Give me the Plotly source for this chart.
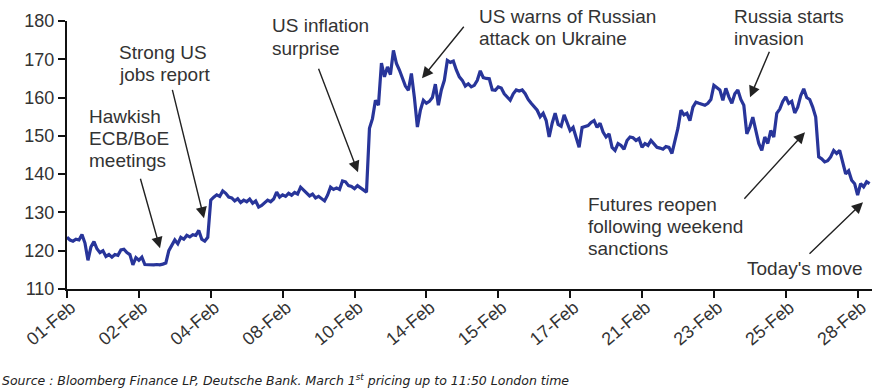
import plotly.graph_objects as go

# ---------------- data ----------------
tick_labels = ["01-Feb", "02-Feb", "04-Feb", "08-Feb", "10-Feb", "14-Feb",
               "15-Feb", "17-Feb", "21-Feb", "23-Feb", "25-Feb", "28-Feb"]
samples_per_tick = 24

values = [
    123.5, 122.8, 122.5, 123.0, 122.8, 124.2, 122.0, 117.5, 121.0, 122.4,
    120.5, 119.5, 120.0, 118.5, 119.0, 118.3, 119.0, 118.8, 120.2, 120.4,
    119.5, 119.0, 116.3, 118.2, 117.5, 118.3, 116.4, 116.3, 116.4, 116.3,
    116.4, 116.3, 116.5, 116.8, 120.0, 121.5, 122.8, 121.8, 123.5, 123.0,
    124.0, 123.6, 124.2, 124.0, 125.3, 123.0, 122.5, 123.5, 133.2, 134.0,
    134.6, 134.2, 135.6, 135.0, 134.0, 133.8, 133.0, 133.6, 132.6, 133.2,
    132.8, 133.5, 132.4, 133.0, 131.4, 131.8, 132.6, 133.2, 132.8, 133.5,
    135.3, 134.0, 134.6, 134.2, 135.0, 134.5, 135.2, 134.8, 136.6, 135.8,
    135.0, 134.3, 134.8, 133.8, 134.2, 133.5, 133.0, 134.5, 136.6, 136.0,
    136.4, 136.0, 138.2, 138.0, 137.0, 136.8, 136.2, 137.0, 136.4, 136.0,
    135.3, 152.0, 154.5, 159.3, 158.0, 169.0, 165.4, 168.0, 166.0, 172.3,
    168.9, 167.2, 165.0, 163.0, 161.9, 166.3, 160.0, 152.3, 156.7, 159.3,
    158.5, 159.0, 160.0, 163.5, 158.0, 162.0, 164.5, 169.7, 169.2, 169.5,
    167.2, 165.4, 164.5, 163.0, 163.6, 162.8, 163.2, 164.5, 167.0, 165.2,
    165.0, 164.9, 162.0, 161.9, 162.8, 162.5, 161.0, 160.0, 159.3, 161.0,
    162.0, 161.7, 162.0, 161.0, 159.5, 158.5, 157.5, 156.7, 155.0, 155.9,
    154.0, 149.7, 153.3, 155.9, 153.0, 152.5, 155.5, 153.3, 151.4, 152.2,
    149.7, 147.0, 152.2, 152.5, 152.7, 153.5, 154.0, 152.2, 153.3, 151.0,
    149.7, 150.5, 147.0, 146.2, 148.0, 147.5, 146.5, 148.8, 149.7, 149.5,
    148.8, 149.3, 147.0, 148.0, 147.5, 148.8, 147.8, 147.0, 146.8, 146.5,
    147.2, 147.0, 145.4, 149.0, 152.0, 156.7, 155.5, 155.9, 154.0, 157.5,
    158.8, 158.5, 158.2, 158.0, 158.5, 159.5, 163.2, 162.5, 162.0, 159.3,
    162.4, 160.2, 158.5, 161.0, 162.0, 159.5, 158.0, 150.5, 152.3, 154.9,
    151.0, 148.0, 146.2, 149.7, 148.0, 151.4, 149.7, 155.9, 157.0, 159.0,
    160.2, 158.5, 159.0, 156.0, 157.5, 160.5, 162.3, 160.0, 159.5, 157.5,
    154.9, 144.5, 144.0, 143.2, 143.5, 144.5, 146.2, 145.4, 146.2, 142.7,
    140.1, 140.9, 138.4, 137.5, 134.5, 137.5, 136.7, 138.0, 137.5,
]
x_vals = [i / samples_per_tick for i in range(len(values))]

y_ticks = [110, 120, 130, 140, 150, 160, 170, 180]

# ---------------- layout helpers ----------------
W, H = 872, 389
L, R, T, B = 67, 0, 20.7, 100.3
X_MAX = 11.2
Y_MIN, Y_MAX = 110, 180
pw, ph = W - L - R, H - T - B


def px2x(px):
    return (px - L) / pw * X_MAX


def py2y(py):
    return Y_MIN + (H - B - py) / ph * (Y_MAX - Y_MIN)


def px2paper(px):
    return (px - L) / pw


def py2paper(py):
    return (H - B - py) / ph


TEXT_COLOR = "#333333"
FONT = "Liberation Sans, Arial, sans-serif"

fig = go.Figure()
fig.add_trace(go.Scatter(
    x=x_vals, y=values, mode="lines",
    line=dict(color="#28359a", width=3.2),
    hoverinfo="skip", showlegend=False,
))

annotations = []

# text labels (one per line for tight line spacing)
text_blocks = [
    (87, [(116, "Hawkish"), (138, "ECB/BoE"), (160, "meetings")]),
    (117, [(52, "Strong US"), (74, "jobs report")]),
    (270, [(25, "US inflation"), (48, "surprise")]),
    (477, [(16, "US warns of Russian"), (38, "attack on Ukraine")]),
    (732, [(16, "Russia starts"), (38, "invasion")]),
    (586, [(204, "Futures reopen"), (226, "following weekend"), (248, "sanctions")]),
    (745, [(268, "Today's move")]),
]
for px, lines in text_blocks:
    for py, txt in lines:
        annotations.append(dict(
            text=txt, xref="paper", yref="paper",
            x=px2paper(px), y=py2paper(py),
            xanchor="left", yanchor="middle", showarrow=False,
            font=dict(size=19, color=TEXT_COLOR, family=FONT),
        ))

# arrows: (tail px, tail py, head px, head py)
arrows = [
    (140, 177, 160, 248),
    (172, 88, 204, 218),
    (318, 67, 358, 172),
    (465, 25, 422, 78),
    (770, 50, 750, 97),
    (743, 200, 805, 132),
    (808, 255, 863, 202),
]
for tx, ty, hx, hy in arrows:
    annotations.append(dict(
        text="", xref="x", yref="y", axref="x", ayref="y",
        x=px2x(hx), y=py2y(hy), ax=px2x(tx), ay=py2y(ty),
        showarrow=True, arrowhead=2, arrowsize=1.6, arrowwidth=1.4,
        arrowcolor="#222222", standoff=0, startstandoff=0,
    ))

# source note
annotations.append(dict(
    text="<i>Source : Bloomberg Finance LP, Deutsche Bank. March 1<sup>st</sup> "
         "pricing up to 11:50 London time</i>",
    xref="paper", yref="paper", x=px2paper(0), y=py2paper(380),
    xanchor="left", yanchor="middle", showarrow=False,
    font=dict(size=12.5, color="#222222", family="DejaVu Sans, sans-serif"),
))

fig.update_layout(
    width=W, height=H,
    margin=dict(l=L, r=R, t=T, b=B, pad=0),
    paper_bgcolor="white", plot_bgcolor="white",
    annotations=annotations,
    font=dict(family=FONT, color=TEXT_COLOR),
    xaxis=dict(
        range=[0, X_MAX], tickmode="array",
        tickvals=list(range(len(tick_labels))), ticktext=tick_labels,
        tickangle=-40, ticks="outside", ticklen=7, tickwidth=2, tickcolor="#111111",
        ticklabelstandoff=-8, ticklabelshift=4,
        showline=True, linecolor="#111111", linewidth=2,
        showgrid=False, zeroline=False,
        tickfont=dict(size=18, color=TEXT_COLOR, family=FONT),
    ),
    yaxis=dict(
        range=[Y_MIN, Y_MAX], tickmode="array", tickvals=y_ticks,
        ticks="outside", ticklen=7, tickwidth=2, tickcolor="#111111",
        showline=True, linecolor="#111111", linewidth=2,
        showgrid=False, zeroline=False,
        tickfont=dict(size=18, color=TEXT_COLOR, family=FONT),
    ),
)

fig.write_html("out.html")
